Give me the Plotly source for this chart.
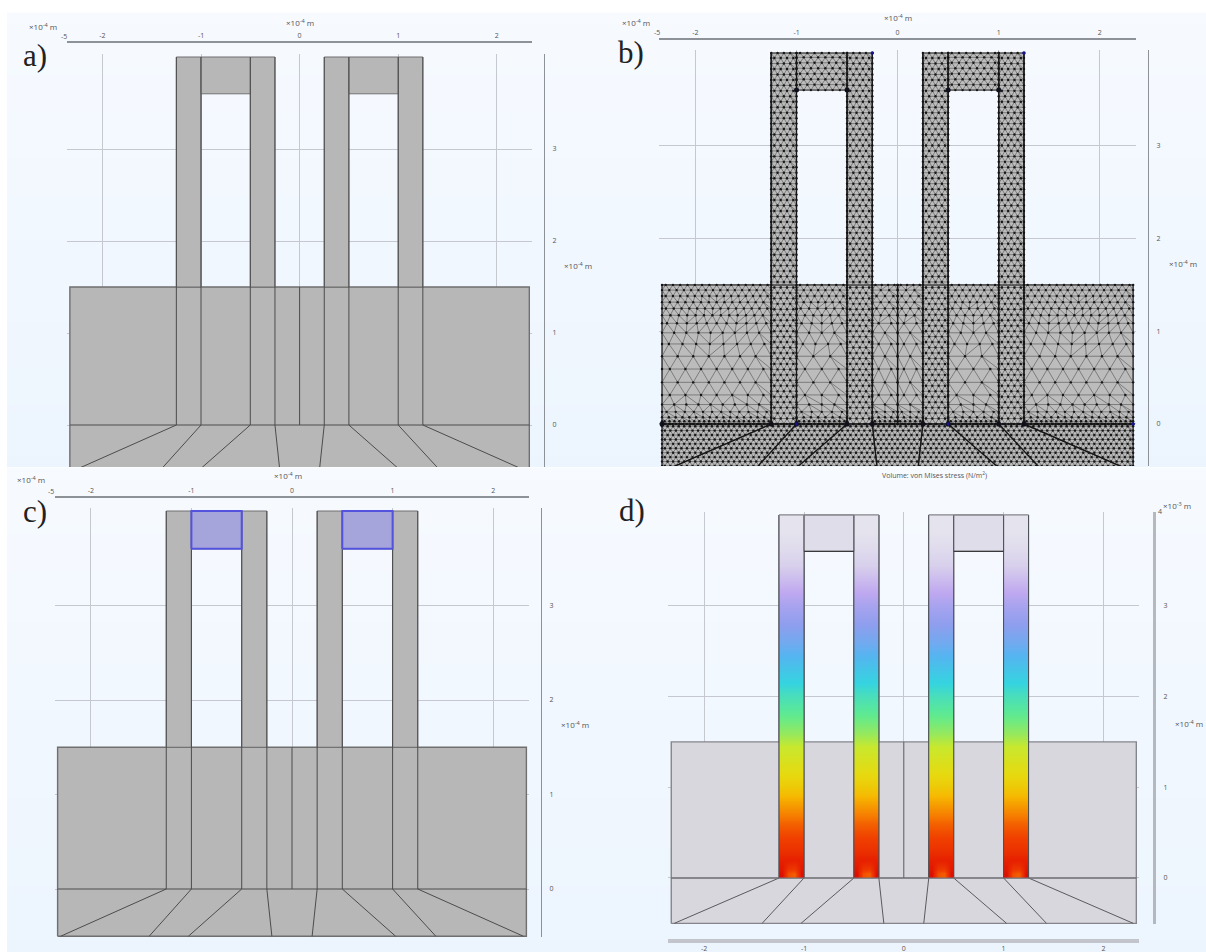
import numpy as np
import plotly.graph_objects as go

W, H = 1206, 952

# ---------- geometry (units of 1e-4 m) ----------
leg_edges = [-1.25, -1.0, -0.5, -0.25, 0.25, 0.5, 1.0, 1.25]
foot_x = [-2.3, -1.42, -1.03, -0.2, 0.2, 1.03, 1.43, 2.3]
base_x = [-2.33, 2.33]
y_top, y_bridge, y_base, y_floor, y_bottom = 4.0, 3.6, 1.5, 0.0, -0.5
x_ticks = [-2, -1, 0, 1, 2]
y_ticks = [0, 1, 2, 3]

# ---------- stress profile of the legs, panel d ----------
heat_edges = [0, .1, .3, .6, .8, 1.0, 1.3, 1.6, 2.0, 2.3, 2.6, 3.0, 3.3, 3.6, 4.0]
heat_stress = [1.0, .97, .9, .82, .74, .66, .58, .48, .38, .30, .22, .14, .06, 0.0]
heat_colors = ["#dd0f00", "#e62000", "#f04000", "#f68000", "#f6b800", "#e6da10", "#c8e82e",
               "#5fea90", "#35d4e0", "#55b4f0", "#8f9eee", "#bfa8f0", "#d8d0ec", "#e5e3ee"]
heat_floor = [1.0, .88, .86, 1.0]

# ---------- mesh density of panel b ----------
# The mesh itself cannot be read node by node: it is drawn as a schematic graded
# lattice from these element sizes, not from nodes.
base_band_y = [0.0, 0.1, 0.35, 0.8, 1.2, 1.5]
base_band_step = [.035, .08, .17, .15, .08, .07]
leg_step = .068
strip_step = .055
hot_x = [-1.25, -1.0, -0.5, -0.25, 0.25, 0.5, 1.0, 1.25, -2.33, -1.0, -0.5, 0.5, 1.0]
hot_y = [0, 0, 0, 0, 0, 0, 0, 0, 0, 3.6, 3.6, 3.6, 3.6]
blue_x = [-0.25, 1.25, 2.33, -1.0, 0.5]
blue_y = [4.0, 4.0, 0.0, 0.0, 0.0]

# ---------- page background ----------
bg_rows = [0, .5, 1]
bg_bands = [[12, 13, 466, 467], [467, 468, 951, 952]]

panels = [
    dict(n=2, x0=299.6, xs=98.6, y0=425, ys=92.0, bot=467, line_y=42, right=544, right_top=57,
         tag="a)", tag_xy=(35, 55), unit_xy=(43, 26), five_xy=(64, 37), title_xy=(300, 22), runit_xy=(578, 265)),
    dict(n=3, x0=897.6, xs=101.1, y0=424, ys=92.75, bot=466, line_y=39, right=1148, right_top=55,
         tag="b)", tag_xy=(631, 52), unit_xy=(636, 22), five_xy=(657, 33), title_xy=(898, 17), runit_xy=(1183, 263)),
    dict(n=4, x0=292.0, xs=100.6, y0=889, ys=94.5, bot=937, line_y=497, right=541, right_top=512,
         tag="c)", tag_xy=(35, 511), unit_xy=(31, 479), five_xy=(51, 491), title_xy=(288, 475), runit_xy=(575, 724)),
    dict(n=5, x0=903.8, xs=99.8, y0=878, ys=90.75, bot=924, line_y=941, right=1154, right_top=518,
         tag="d)", tag_xy=(632, 510), unit_xy=(1189, 723), five_xy=(1160, 511), title_xy=(1177, 505), runit_xy=None),
]

GRID = "#c5c9cf"
AXIS = "#8d9299"
TICK = dict(size=7, color="#555", family="Open Sans")


def rect(a, b, c, d):
    return [a, b, b, a, a], [c, c, d, d, c]


def poly(fig, xs, ys, fill, line, width, ax):
    fig.add_trace(go.Scatter(x=xs, y=ys, mode="lines", fill="toself", fillcolor=fill,
                             line=dict(color=line, width=width), hoverinfo="skip", **ax))


def segments(fig, segs, color, width, ax):
    xs, ys = [], []
    for x1, y1, x2, y2 in segs:
        xs += [x1, x2, None]
        ys += [y1, y2, None]
    fig.add_trace(go.Scatter(x=xs, y=ys, mode="lines", line=dict(color=color, width=width),
                             hoverinfo="skip", **ax))


def inner_segments():
    segs = []
    for e in leg_edges:
        segs.append((e, y_floor, e, y_top))
    segs += [(0, y_floor, 0, y_base), (base_x[0], y_floor, base_x[1], y_floor)]
    for e, f in zip(leg_edges, foot_x):
        segs.append((e, y_floor, f, y_bottom))
    return segs


def bridges():
    return [(leg_edges[1], leg_edges[2]), (leg_edges[5], leg_edges[6])]


def legs():
    return [(leg_edges[0], leg_edges[1]), (leg_edges[2], leg_edges[3]),
            (leg_edges[4], leg_edges[5]), (leg_edges[6], leg_edges[7])]


def solid(fig, ax, fill, edge, outer, width=1.0):
    poly(fig, *rect(base_x[0], base_x[1], y_bottom, y_base), fill, outer, 1.4, ax)
    for a, b in legs():
        poly(fig, *rect(a, b, y_base, y_top), fill, outer, 1.0, ax)
    for a, b in bridges():
        poly(fig, *rect(a, b, y_bridge, y_top), fill, outer, 1.0, ax)
    segments(fig, inner_segments(), edge, width, ax)


def row_nodes(x0, x1, step, odd):
    n = max(1, int(round((x1 - x0) / step)))
    s = (x1 - x0) / n
    if odd:
        return [x0] + [x0 + s * (i + .5) for i in range(n)] + [x1]
    return [x0 + s * i for i in range(n + 1)]


def mesh_region(x0, x1, y0, y1, step_of):
    rows = []
    y, odd = y0, False
    while y < y1 - 1e-6:
        rows.append((y, row_nodes(x0, x1, step_of(y), odd)))
        y += step_of(y) * .866
        odd = not odd
    rows.append((y1, row_nodes(x0, x1, step_of(y1), odd)))
    segs, nx, ny = [], [], []
    for k, (ya, a) in enumerate(rows):
        nx += a
        ny += [ya] * len(a)
        for p, q in zip(a[:-1], a[1:]):
            segs.append((p, ya, q, ya))
        if k + 1 < len(rows):
            yb, b = rows[k + 1]
            i, j = 0, 0
            segs.append((a[0], ya, b[0], yb))
            while i < len(a) - 1 or j < len(b) - 1:
                if j == len(b) - 1 or (i < len(a) - 1 and a[i + 1] <= b[j + 1]):
                    i += 1
                else:
                    j += 1
                segs.append((a[i], ya, b[j], yb))
    return segs, nx, ny


fig = go.Figure()

# page background: one gradient band per row of panels
for band in bg_bands:
    fig.add_trace(go.Heatmap(x=[7, 606, 1206], y=band, z=[[r, r] for r in bg_rows], zmin=0, zmax=1, zsmooth="best",
                             colorscale=[[0, "#fcfdff"], [1, "#e7f2fe"]], showscale=False,
                             hoverinfo="skip", xaxis="x", yaxis="y"))

layout_axes = dict(
    xaxis=dict(domain=[0, 1], range=[0, W], visible=False, fixedrange=True),
    yaxis=dict(domain=[0, 1], range=[H, 0], visible=False, fixedrange=True),
)
annotations = []


def note(text, x, y, size=8, color="#555", family="Open Sans"):
    annotations.append(dict(text=text, x=x / W, y=1 - y / H, xref="paper", yref="paper", showarrow=False,
                            xanchor="center", yanchor="middle", font=dict(size=size, color=color, family=family)))


UNIT = "×10<sup>-4</sup> m"
for p in panels:
    n = p["n"]
    ax = dict(xaxis=f"x{n}", yaxis=f"y{n}")
    xmin, xmax, ymax = -2.36, 2.36, 4.03
    ymin = (p["y0"] - p["bot"]) / p["ys"]
    is_d = n == 5
    x_dom = [(p["x0"] + xmin * p["xs"]) / W, (p["x0"] + xmax * p["xs"]) / W]
    y_dom = [1 - p["bot"] / H, 1 - (p["y0"] - ymax * p["ys"]) / H]
    layout_axes[f"xaxis{n}"] = dict(
        domain=x_dom, range=[xmin, xmax],
        anchor="free", position=1 - p["line_y"] / H, side="bottom" if is_d else "top",
        showline=True, linecolor="#c2c6cc" if is_d else AXIS, linewidth=4 if is_d else 1.5,
        showgrid=True, gridcolor=GRID, gridwidth=1, zeroline=False, tickvals=x_ticks,
        ticktext=[str(t) for t in x_ticks], tickfont=TICK, ticks="", ticklen=0, fixedrange=True)
    layout_axes[f"yaxis{n}"] = dict(
        domain=y_dom, range=[ymin, ymax],
        anchor="free", position=p["right"] / W, side="right",
        showline=True, linecolor="#b4b8bf" if is_d else AXIS, linewidth=3 if is_d else 1,
        showgrid=True, gridcolor=GRID, gridwidth=1, zeroline=False, tickvals=y_ticks,
        ticktext=[str(t) for t in y_ticks], tickfont=TICK, ticks="", fixedrange=True,
        ticklabelstandoff=6)

    if n == 2:
        solid(fig, ax, "#b7b7b7", "#4c4c4c", "#6f6f6f")
    elif n == 3:
        solid(fig, ax, "#bcbcbc", "#202020", "#303030", 1.4)
        all_segs, all_x, all_y = [], [], []
        step_leg = lambda y: leg_step
        step_base = lambda y: float(np.interp(y, base_band_y, base_band_step))
        step_strip = lambda y: strip_step
        regions = [(base_x[0], base_x[1], y_bottom, y_floor, step_strip)]
        base_cuts = [base_x[0]] + leg_edges + [base_x[1]]
        for a, b in zip(base_cuts[:-1], base_cuts[1:]):
            if (a, b) in legs():
                regions.append((a, b, y_floor, y_top, step_leg))
            elif a == -0.25:
                regions.append((a, 0, y_floor, y_base, step_base))
                regions.append((0, b, y_floor, y_base, step_base))
            else:
                regions.append((a, b, y_floor, y_base, step_base))
        for a, b in bridges():
            regions.append((a, b, y_bridge, y_top, step_leg))
        for r in regions:
            s, nx, ny = mesh_region(*r)
            all_segs += s
            all_x += nx
            all_y += ny
        segments(fig, all_segs, "#505050", .6, ax)
        fig.add_trace(go.Scatter(x=all_x, y=all_y, mode="markers", marker=dict(size=2.4, color="#161616"),
                                 hoverinfo="skip", **ax))
        segments(fig, inner_segments(), "#151515", 1.0, ax)
        fig.add_trace(go.Scatter(x=hot_x, y=hot_y, mode="markers", marker=dict(size=5, color="#10101c"),
                                 hoverinfo="skip", **ax))
        fig.add_trace(go.Scatter(x=blue_x, y=blue_y, mode="markers", marker=dict(size=3.5, color="#14148c"),
                                 hoverinfo="skip", **ax))
    elif n == 4:
        solid(fig, ax, "#b7b7b7", "#4c4c4c", "#6f6f6f")
        for a, b in bridges():
            poly(fig, *rect(a, b, y_bridge, y_top), "#a5a5dc", "#5353de", 2, ax)
    else:
        solid(fig, ax, "#d7d7dd", "#5a5a5e", "#85858c")
        # heatmaps always sit under scatter fills of the same subplot, so the legs
        # go on a second, invisible axis pair stacked above panel d
        layout_axes["xaxis6"] = dict(domain=x_dom, range=[xmin, xmax], visible=False, anchor="y6", fixedrange=True)
        layout_axes["yaxis6"] = dict(domain=y_dom, range=[ymin, ymax], visible=False, anchor="x6", fixedrange=True)
        top = dict(xaxis="x6", yaxis="y6")
        stops = sorted(zip(heat_stress, heat_colors))
        scale = [[s, c] for s, c in stops]
        z = [[s] * 4 for s in heat_stress]
        z[0] = heat_floor
        for a, b in legs():
            fig.add_trace(go.Heatmap(x=list(np.linspace(a, b, 5)), y=heat_edges, z=z, zmin=0, zmax=1,
                                     zsmooth="best", colorscale=scale, showscale=False,
                                     hoverinfo="skip", **top))
        for a, b in bridges():
            poly(fig, *rect(a, b, y_bridge, y_top), "#dedde9", "#85858c", 1, top)
        segs = [(e, y_floor, e, y_top) for e in leg_edges]
        segments(fig, segs, "#4a4f55", 1, top)
        segments(fig, [(a, y_bridge, b, y_bridge) for a, b in bridges()], "#3a3a3e", 1.2, top)
        segments(fig, [(base_x[0], y_floor, base_x[1], y_floor)], "#74747a", 1.2, top)
        segments(fig, [(a, y_top, b, y_top) for a, b in [(leg_edges[0], leg_edges[3]), (leg_edges[4], leg_edges[7])]],
                 "#85858c", 1.2, top)

    note(p["tag"], *p["tag_xy"], size=31, color="#222", family="Liberation Serif")
    note(UNIT, *p["unit_xy"])
    note("4" if is_d else "-5", *p["five_xy"], size=7)
    if is_d:
        note("×10<sup>-3</sup> m", *p["title_xy"])
        note("Volume: von Mises stress (N/m<sup>2</sup>)", 934.5, 475, size=7)
    else:
        note(UNIT, *p["title_xy"])
        note(UNIT, *p["runit_xy"])

fig.update_layout(width=W, height=H, margin=dict(l=0, r=0, t=0, b=0), paper_bgcolor="#ffffff",
                  plot_bgcolor="rgba(0,0,0,0)", showlegend=False, annotations=annotations, **layout_axes)
fig.write_html("out.html", config={"displayModeBar": False},
               post_script="document.body.style.margin='0';")
